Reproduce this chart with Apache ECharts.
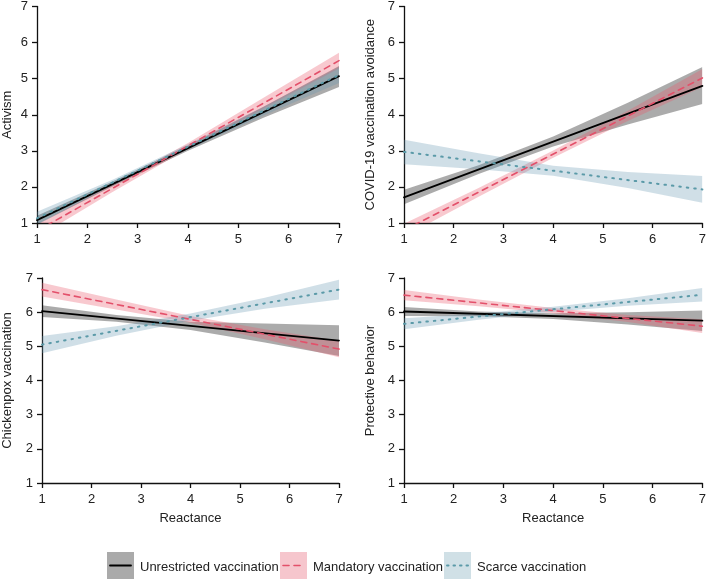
<!DOCTYPE html>
<html>
<head>
<meta charset="utf-8">
<script src="https://cdn.jsdelivr.net/npm/echarts@6/dist/echarts.min.js"></script>
<style>html,body{margin:0;padding:0;background:#fff}#c{width:709px;height:580px}</style>
</head>
<body>
<div id="c"></div>
<script>
// ---- data ----
const X_LINE = [1, 7];
const X_BAND = [1, 2.5, 4, 5.5, 7];
const xTicks = [1, 2, 3, 4, 5, 6, 7];
const yTicks = [1, 2, 3, 4, 5, 6, 7];
const groups = ['Unrestricted vaccination', 'Mandatory vaccination', 'Scarce vaccination'];
const panelTitles = ['Activism', 'COVID-19 vaccination avoidance', 'Chickenpox vaccination', 'Protective behavior'];
const xTitle = 'Reactance';

// Activism
const act_unr = [1.08, 5.07];
const act_unr_lo = [0.96, 2.01, 3.00, 3.92, 4.77];
const act_unr_hi = [1.20, 2.15, 3.15, 4.22, 5.35];
const act_man = [0.78, 5.50];
const act_man_lo = [0.60, 1.86, 3.06, 4.17, 5.28];
const act_man_hi = [0.96, 2.06, 3.22, 4.47, 5.72];
const act_sca = [1.13, 5.10];
const act_sca_lo = [0.95, 2.04, 3.04, 3.98, 4.88];
const act_sca_hi = [1.31, 2.20, 3.18, 4.22, 5.32];

// COVID-19 vaccination avoidance
const cov_unr = [1.71, 4.80];
const cov_unr_lo = [1.52, 2.36, 3.12, 3.73, 4.30];
const cov_unr_hi = [1.92, 2.60, 3.40, 4.33, 5.32];
const cov_man = [0.80, 5.02];
const cov_man_lo = [0.62, 1.73, 2.81, 3.83, 4.77];
const cov_man_hi = [0.98, 1.97, 3.01, 4.11, 5.27];
const cov_sca = [2.97, 1.93];
const cov_sca_lo = [2.63, 2.49, 2.31, 1.97, 1.56];
const cov_sca_hi = [3.31, 2.93, 2.59, 2.41, 2.30];

// Chickenpox vaccination
const chp_unr = [6.03, 5.17];
const chp_unr_lo = [5.86, 5.72, 5.48, 5.11, 4.72];
const chp_unr_hi = [6.20, 5.92, 5.72, 5.67, 5.62];
const chp_man = [6.66, 4.92];
const chp_man_lo = [6.46, 6.08, 5.69, 5.21, 4.68];
const chp_man_hi = [6.86, 6.37, 5.89, 5.50, 5.16];
const chp_sca = [5.05, 6.66];
const chp_sca_lo = [4.80, 5.31, 5.75, 6.10, 6.37];
const chp_sca_hi = [5.30, 5.59, 5.96, 6.42, 6.95];

// Protective behavior
const pro_unr = [6.02, 5.75];
const pro_unr_lo = [5.89, 5.88, 5.80, 5.64, 5.45];
const pro_unr_hi = [6.15, 6.02, 5.97, 6.00, 6.05];
const pro_man = [6.50, 5.59];
const pro_man_lo = [6.35, 6.17, 5.97, 5.71, 5.39];
const pro_man_hi = [6.65, 6.37, 6.12, 5.92, 5.79];
const pro_sca = [5.66, 6.51];
const pro_sca_lo = [5.50, 5.78, 6.01, 6.19, 6.31];
const pro_sca_hi = [5.82, 5.96, 6.16, 6.41, 6.71];

// ---- styles ----
const FONT = 'Liberation Sans, Arial, Helvetica, sans-serif';
const bandColors = ['rgba(0,0,0,0.33)', 'rgba(235,90,110,0.33)', 'rgba(100,150,175,0.30)'];
const legendBox = ['#aaaaaa', '#f6c6cd', '#d0e0e6'];
const lineColors = ['#000000', '#e3506a', '#5b9aa8'];
const lineTypes = ['solid', [6, 5], [1.5, 6]];
const lineWidths = [1.8, 1.6, 2];

const panels = [
  [[act_unr, act_unr_lo, act_unr_hi], [act_man, act_man_lo, act_man_hi], [act_sca, act_sca_lo, act_sca_hi]],
  [[cov_unr, cov_unr_lo, cov_unr_hi], [cov_man, cov_man_lo, cov_man_hi], [cov_sca, cov_sca_lo, cov_sca_hi]],
  [[chp_unr, chp_unr_lo, chp_unr_hi], [chp_man, chp_man_lo, chp_man_hi], [chp_sca, chp_sca_lo, chp_sca_hi]],
  [[pro_unr, pro_unr_lo, pro_unr_hi], [pro_man, pro_man_lo, pro_man_hi], [pro_sca, pro_sca_lo, pro_sca_hi]]
];

const grids = [
  {left: 37, right: 370, top: 3.5, bottom: 357},
  {left: 404, right: 4, top: 3.5, bottom: 357},
  {left: 37, right: 370, top: 278, bottom: 97},
  {left: 404, right: 4, top: 278, bottom: 97}
];
const yNameGaps = [23, 27, 28, 27];

const xAxes = [], yAxes = [], series = [];
grids.forEach((g, i) => {
  const bottomRow = i >= 2;
  xAxes.push({
    gridIndex: i, type: 'value', min: 1, max: 7, interval: 1,
    name: bottomRow ? xTitle : '', nameLocation: 'middle', nameGap: 29,
    nameTextStyle: {fontFamily: FONT, fontSize: 13, color: '#222'},
    axisLine: {show: true, onZero: false, lineStyle: {color: '#111', width: 1.3}},
    axisTick: {show: true, length: 5, lineStyle: {color: '#111', width: 1.3}},
    axisLabel: {fontFamily: FONT, fontSize: 13, color: '#222', margin: 10},
    splitLine: {show: false}
  });
  yAxes.push({
    gridIndex: i, type: 'value', min: 1, max: 7, interval: 1,
    name: panelTitles[i], nameLocation: 'middle', nameGap: yNameGaps[i],
    nameTextStyle: {fontFamily: FONT, fontSize: 13, color: '#222'},
    axisLine: {show: true, onZero: false, lineStyle: {color: '#111', width: 1.3}},
    axisTick: {show: true, length: 5, lineStyle: {color: '#111', width: 1.3}},
    axisLabel: {fontFamily: FONT, fontSize: 13, color: '#222', margin: 9},
    splitLine: {show: false}
  });
});

// confidence bands as polygons placed through the axes' scales
panels.forEach((panel, i) => {
  panel.forEach((grp, k) => {
    const lo = grp[1], hi = grp[2];
    series.push({
      type: 'custom', xAxisIndex: i, yAxisIndex: i, silent: true, z: 1,
      coordinateSystem: 'cartesian2d',
      data: X_BAND.map((x, j) => [x, lo[j], hi[j]]),
      encode: {x: 0, y: [1, 2]},
      renderItem: function (params, api) {
        if (params.dataIndex !== 0) return null;
        const pts = [];
        X_BAND.forEach((x, j) => pts.push(api.coord([x, hi[j]])));
        for (let j = X_BAND.length - 1; j >= 0; j--) pts.push(api.coord([X_BAND[j], lo[j]]));
        const cs = params.coordSys;
        return {
          type: 'polygon',
          shape: {points: pts},
          style: {fill: bandColors[k]},
          clipPath: {type: 'rect', shape: {x: cs.x, y: cs.y, width: cs.width, height: cs.height}}
        };
      }
    });
  });
});
// fitted lines
panels.forEach((panel, i) => {
  panel.forEach((grp, k) => {
    series.push({
      type: 'line', name: groups[k], xAxisIndex: i, yAxisIndex: i, z: 3,
      symbol: 'none',
      lineStyle: {color: lineColors[k], width: lineWidths[k], type: lineTypes[k], cap: 'round'},
      data: X_LINE.map((x, j) => [x, grp[0][j]])
    });
  });
});

// legend built from graphic elements
const legendX = [107, 280, 444];
const legendY = 552;
const legendEls = [];
groups.forEach((name, k) => {
  const x = legendX[k];
  legendEls.push({type: 'rect', shape: {x: x, y: legendY, width: 27, height: 27}, style: {fill: legendBox[k]}});
  legendEls.push({type: 'line', shape: {x1: x + 3, y1: legendY + 13.5, x2: x + 24, y2: legendY + 13.5},
    style: {stroke: lineColors[k], lineWidth: lineWidths[k], lineDash: k === 0 ? null : (k === 1 ? [6, 5] : [1.5, 5]), lineCap: 'round'}});
  legendEls.push({type: 'text', x: x + 33, y: legendY + 15,
    style: {text: name, fontFamily: FONT, fontSize: 13, fill: '#222', verticalAlign: 'middle', align: 'left'}});
});

const chart = echarts.init(document.getElementById('c'), null, {renderer: 'canvas'});
chart.setOption({
  animation: false,
  backgroundColor: '#fff',
  grid: grids,
  xAxis: xAxes,
  yAxis: yAxes,
  series: series,
  graphic: legendEls
});
</script>
</body>
</html>
